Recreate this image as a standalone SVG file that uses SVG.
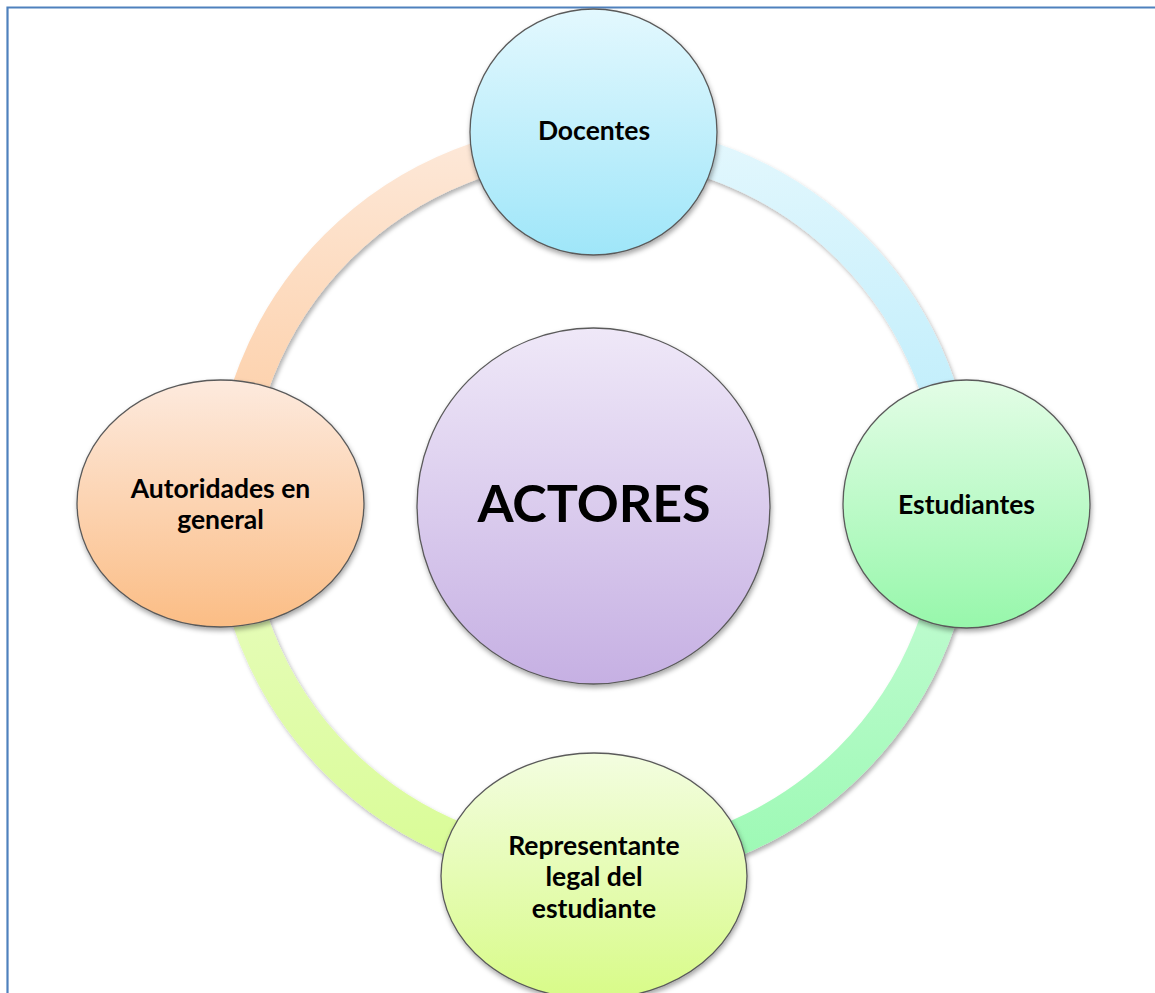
<svg xmlns="http://www.w3.org/2000/svg" width="1155" height="993" viewBox="0 0 1155 993">
<style>
  .node { stroke:#5a5a5a; stroke-width:1.3; filter:url(#shadow); }
  .arc { fill:none; stroke-width:36; filter:url(#ashadow); }
  .lbl { font-family:Lato, "Liberation Sans", sans-serif; font-weight:bold; font-size:26.5px; fill:#000; text-anchor:middle; }
  .big { font-family:Lato, "Liberation Sans", sans-serif; font-weight:bold; font-size:52px; fill:#000; text-anchor:middle; }
</style>
<defs>
  <filter id="shadow" x="-20%" y="-20%" width="140%" height="140%">
    <feDropShadow dx="1" dy="3" stdDeviation="2.5" flood-color="#000" flood-opacity="0.35"/>
  </filter>
  <filter id="ashadow" x="-10%" y="-10%" width="120%" height="120%">
    <feDropShadow dx="2" dy="3" stdDeviation="2" flood-color="#000" flood-opacity="0.3"/>
  </filter>
  <linearGradient id="gDoc" x1="0" y1="0" x2="0" y2="1"><stop offset="0" stop-color="#e3f8fe"/><stop offset="1" stop-color="#9fe6f9"/></linearGradient>
  <linearGradient id="gEst" x1="0" y1="0" x2="0" y2="1"><stop offset="0" stop-color="#e3fde6"/><stop offset="1" stop-color="#97f7ab"/></linearGradient>
  <linearGradient id="gRep" x1="0" y1="0" x2="0" y2="1"><stop offset="0" stop-color="#f3fde0"/><stop offset="1" stop-color="#d8fb88"/></linearGradient>
  <linearGradient id="gAut" x1="0" y1="0" x2="0" y2="1"><stop offset="0" stop-color="#fdeade"/><stop offset="1" stop-color="#fbbd85"/></linearGradient>
  <linearGradient id="gAct" x1="0" y1="0" x2="0" y2="1"><stop offset="0" stop-color="#efe8f8"/><stop offset="1" stop-color="#c6b0e3"/></linearGradient>
  <linearGradient id="aTL" x1="0" y1="0" x2="0" y2="1"><stop offset="0" stop-color="#fde8d8"/><stop offset="1" stop-color="#fdc99c"/></linearGradient>
  <linearGradient id="aTR" x1="0" y1="0" x2="0" y2="1"><stop offset="0" stop-color="#e2f7fd"/><stop offset="1" stop-color="#b6ebfb"/></linearGradient>
  <linearGradient id="aBR" x1="0" y1="0" x2="0" y2="1"><stop offset="0" stop-color="#cafcd8"/><stop offset="1" stop-color="#9cf9b4"/></linearGradient>
  <linearGradient id="aBL" x1="0" y1="0" x2="0" y2="1"><stop offset="0" stop-color="#eafcc4"/><stop offset="1" stop-color="#d9fc96"/></linearGradient>
</defs>
<rect x="0" y="0" width="1155" height="993" fill="#ffffff"/>
<path d="M7.5,993 V7.5 H1155" fill="none" stroke="#4f81bd" stroke-width="2.2"/>
<g id="connectors">
  <path class="arc" stroke="url(#aTL)" d="M231,504 A363,363 0 0 1 594,141"/>
  <path class="arc" stroke="url(#aTR)" d="M594,141 A363,363 0 0 1 957,504"/>
  <path class="arc" stroke="url(#aBR)" d="M957,504 A363,363 0 0 1 594,867"/>
  <path class="arc" stroke="url(#aBL)" d="M594,867 A363,363 0 0 1 231,504"/>
</g>
<g id="actores">
  <ellipse class="node" cx="593.5" cy="506" rx="176.5" ry="178" fill="url(#gAct)"/>
  <text class="big" x="594" y="522">ACTORES</text>
</g>
<g id="docentes">
  <ellipse class="node" cx="593.5" cy="132" rx="123.5" ry="123" fill="url(#gDoc)"/>
  <text class="lbl" x="594" y="140">Docentes</text>
</g>
<g id="estudiantes">
  <ellipse class="node" cx="966.5" cy="504" rx="123.5" ry="124" fill="url(#gEst)"/>
  <text class="lbl" x="966.5" y="514">Estudiantes</text>
</g>
<g id="autoridades">
  <ellipse class="node" cx="220.5" cy="503.5" rx="143.5" ry="123.5" fill="url(#gAut)"/>
  <text class="lbl" x="220.5" y="498">Autoridades en</text>
  <text class="lbl" x="220.5" y="529">general</text>
</g>
<g id="representante">
  <ellipse class="node" cx="594" cy="876" rx="153" ry="123" fill="url(#gRep)"/>
  <text class="lbl" x="594" y="855">Representante</text>
  <text class="lbl" x="594" y="886">legal del</text>
  <text class="lbl" x="594" y="918">estudiante</text>
</g>
</svg>
